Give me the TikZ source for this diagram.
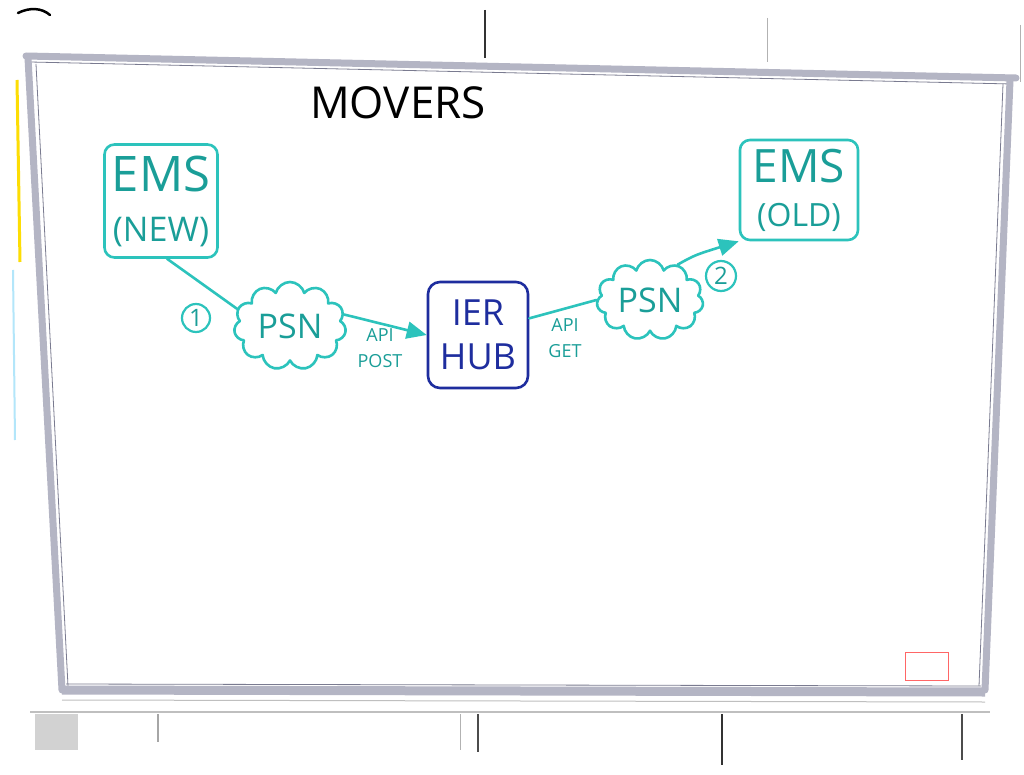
\documentclass[tikz,border=0pt]{standalone}
\usepackage{fontspec}
\setmainfont{Open Sans}
\usetikzlibrary{shapes.symbols,arrows.meta,calc}
\definecolor{teal1}{HTML}{2CC3BC}
\definecolor{tealtxt}{HTML}{1A9E98}
\definecolor{navy}{HTML}{1E2D9E}
\definecolor{rim}{HTML}{B4B5C4}
\definecolor{rimdark}{HTML}{7A7B90}
\tikzset{
  marker/.style={line width=2.6pt, line cap=round, line join=round},
  tealbox/.style={draw=teal1, marker, rounded corners=10pt, text=tealtxt, align=center, inner sep=0pt},
  hubbox/.style={draw=navy, marker, rounded corners=12pt, text=navy, align=center, inner sep=0pt, minimum width=100pt, minimum height=106pt, font=\fontsize{36}{44}\selectfont},
  psn/.style={cloud, cloud puffs=11, cloud ignores aspect, draw=teal1, marker, text=tealtxt, font=\fontsize{34}{34}\selectfont},
  conn/.style={teal1, marker},
  tip/.style={-{Triangle[length=20pt,width=17pt]}},
  numc/.style={circle, draw=teal1, line width=2.2pt, text=tealtxt, inner sep=0pt, font=\fontsize{24}{24}\selectfont},
  lbl/.style={text=tealtxt, align=center, font=\fontsize{18}{26}\selectfont},
  rimline/.style={rim, line width=7pt, line cap=round},
}
\begin{document}
\begin{tikzpicture}[x=1pt,y=-1pt]
\useasboundingbox (0,0) rectangle (1024,775);
\fill[white] (0,0) rectangle (1024,775);
% surroundings of the board
\draw[black, line width=2.5pt, line cap=round] (18,13) .. controls (30,7) and (42,8) .. (50,15);
\draw[black!80, line width=1.2pt] (485,10) -- (485,58);
\draw[gray!60, line width=0.8pt] (767,18) -- (767,62);
\draw[gray!60, line width=0.8pt] (1020,25) -- (1020,82);
\draw[yellow!80!orange, line width=3pt] (17,80) -- (20,262);
\draw[cyan!30, line width=2pt] (13,270) -- (15,440);
% board rim
\draw[rimline] (26,56) -- (1016,78);
\draw[rimdark, line width=0.8pt] (30,62) -- (1012,84);
\draw[rimline] (28,58) -- (62,690);
\draw[rimdark, line width=0.8pt] (36,64) -- (68,686);
\draw[rimline] (1010,80) -- (985,690);
\draw[rimdark, line width=0.8pt] (1003,84) -- (979,686);
\draw[rim, line width=9pt] (62,690) -- (985,692);
\draw[rimdark, line width=0.8pt] (66,684) -- (981,686);
\draw[gray!50, line width=1.2pt] (30,712) -- (990,712);
\draw[gray!50, line width=1pt] (62,700) -- (985,702);
% below the board
\fill[gray!35] (35,714) rectangle (78,750);
\draw[gray!70, line width=1.5pt] (158,714) -- (158,742);
\draw[gray!60, line width=1pt] (460,714) -- (460,750);
\draw[black!70, line width=1.5pt] (478,714) -- (478,752);
\draw[black!80, line width=1.2pt] (722,714) -- (722,765);
\draw[black!70, line width=2.5pt] (962,714) -- (962,760);
% sticker
\draw[red!60, line width=0.8pt] (905,652) rectangle (948,680);
% title
\node (title) at (398,103) {\fontsize{44}{44}\selectfont MOVERS};
% nodes
\node[tealbox, minimum width=113pt, minimum height=113pt, font=\fontsize{49}{50}\selectfont] (emsnew) at (161,201)
  {EMS\\\fontsize{34}{38}\selectfont (NEW)};
\node[tealbox, minimum width=118pt, minimum height=100pt, font=\fontsize{46}{44}\selectfont] (emsold) at (799,190)
  {EMS\\\fontsize{32}{36}\selectfont (OLD)};
\node[psn, minimum width=112pt, minimum height=88pt] (psn1) at (290,326) {PSN};
\node[psn, minimum width=102pt, minimum height=80pt] (psn2) at (650,300) {PSN};
\node[hubbox] (hub) at (478,335) {IER\\HUB};
% connectors
\draw[conn] (emsnew.-84) -- (psn1.162);
\draw[conn, tip] (psn1.12) -- (hub.west);
\draw[conn] (hub.18) -- (psn2.west);
\draw[conn, tip] (psn2.52) .. controls (695,255) .. (emsold.south west);
% labels
\node[numc, minimum size=28pt] (n1) at (196,318) {1};
\node[numc, minimum size=30pt] (n2) at (721,276) {2};
\node[lbl] (post) at (380,348) {API\\POST};
\node[lbl] (get) at (565,338) {API\\GET};
\end{tikzpicture}
\end{document}
